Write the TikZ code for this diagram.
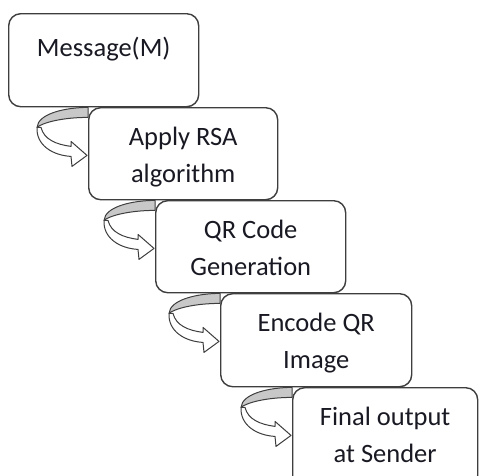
\documentclass[tikz,border=0pt]{standalone}
\usepackage{fontspec}
\setmainfont{Carlito}
\usetikzlibrary{backgrounds}
\definecolor{boxline}{RGB}{62,62,62}
\definecolor{bandgray}{RGB}{200,200,200}
\definecolor{txt}{RGB}{25,25,35}
\tikzset{
  box/.style 2 args={draw=boxline, line width=1.4pt, rounded corners=12pt, fill=white,
    minimum width=#1, minimum height=#2, anchor=north west, inner sep=0pt},
  lbl/.style={anchor=north, inner sep=0pt, align=center, text=txt,
    font=\fontsize{26.5}{37}\selectfont},
  arrowline/.style={draw=boxline, line width=1pt, line join=round},
  turnarrow/.pic={
    \filldraw[arrowline, fill=bandgray] (0,0) .. controls (-22,0) and (-50,-6) .. (-51,-20)
      .. controls (-45,-15) and (-25,-10) .. (0,-10) -- cycle;
    \filldraw[arrowline, fill=white] (-51,-20) .. controls (-52,-38) and (-35,-48) .. (-17,-49)
      -- (-16,-59) -- (-1,-48) -- (-17,-34) -- (-17,-39)
      .. controls (-32,-37) and (-44,-32) .. (-47,-20) -- cycle;
  }
}
\begin{document}
\begin{tikzpicture}[x=1pt,y=1pt]
\useasboundingbox (0,0) rectangle (479,-475);
\clip (0,0) rectangle (479,-475);
\node[box={190pt}{93pt}] (b1) at (8,-13) {};
\node[box={189pt}{92pt}] (b2) at (88,-107) {};
\node[box={190pt}{92pt}] (b3) at (155,-200) {};
\node[box={191pt}{93pt}] (b4) at (220,-293) {};
\node[box={185pt}{100pt}] (b5) at (292,-387) {};
\node[lbl] (t1) at ([yshift=-24pt]b1.north) {Message(M)};
\node[lbl] (t2) at ([yshift=-19.5pt]b2.north) {Apply RSA\\algorithm};
\node[lbl] (t3) at ([yshift=-19.5pt]b3.north) {QR Code\\Generation};
\node[lbl] (t4) at ([yshift=-19.5pt]b4.north) {Encode QR\\Image};
\node[lbl] (t5) at ([yshift=-19.5pt]b5.north) {Final output\\at Sender};
\coordinate (c1) at (b2.west |- b1.south);
\coordinate (c2) at (b3.west |- b2.south);
\coordinate (c3) at (b4.west |- b3.south);
\coordinate (c4) at (b5.west |- b4.south);
\begin{scope}[on background layer]
\pic at (c1) {turnarrow};
\pic at (c2) {turnarrow};
\pic at (c3) {turnarrow};
\pic at (c4) {turnarrow};
\end{scope}
\end{tikzpicture}
\end{document}
